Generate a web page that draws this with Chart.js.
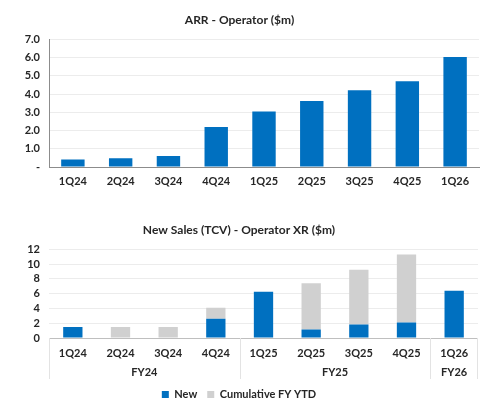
<!DOCTYPE html>
<html>
<head>
<meta charset="utf-8">
<script src="https://cdn.jsdelivr.net/npm/chart.js@4"></script>
<style>
  body { margin: 0; background: #fff; }
  .wrap { position: absolute; left: 0; width: 492px; }
</style>
</head>
<body>
<div class="wrap" style="top:0;height:200px"><canvas id="arrChart"></canvas></div>
<div class="wrap" style="top:210px;height:207px"><canvas id="salesChart"></canvas></div>
<script>
const quarters = ['1Q24', '2Q24', '3Q24', '4Q24', '1Q25', '2Q25', '3Q25', '4Q25', '1Q26'];
const fiscalYears = ['FY24', 'FY24', 'FY24', 'FY24', 'FY25', 'FY25', 'FY25', 'FY25', 'FY26'];
const arrValues = [0.41, 0.48, 0.61, 2.2, 3.05, 3.62, 4.21, 4.71, 6.04];
const newSales = [1.5, 0, 0, 2.6, 6.25, 1.15, 1.83, 2.1, 6.4];
const cumulativeYtd = [0, 1.5, 1.5, 1.5, 0, 6.25, 7.4, 9.2, 0];

const BLUE = '#0070C0';
const GREY = '#D0D0D0';
const TEXT = '#262626';
const FONT = 'Lato, "Open Sans", sans-serif';

Chart.defaults.font.family = FONT;
Chart.defaults.font.weight = 'bold';
Chart.defaults.color = TEXT;
Chart.defaults.animation = false;

// ARR chart
new Chart(document.getElementById('arrChart'), {
  type: 'bar',
  data: {
    labels: quarters,
    datasets: [{
      data: arrValues,
      backgroundColor: BLUE,
      categoryPercentage: 1,
      barPercentage: 0.49,
    }]
  },
  options: {
    responsive: true,
    maintainAspectRatio: false,
    layout: { padding: { left: 0, right: 13, bottom: 0 } },
    plugins: {
      legend: { display: false },
      tooltip: { enabled: false },
      title: {
        display: true,
        text: 'ARR - Operator ($m)',
        font: { size: 12, weight: 'bold' },
        color: TEXT,
        padding: { top: 13, bottom: 12 },
      },
    },
    scales: {
      x: {
        grid: { display: false, drawTicks: false },
        border: { color: '#8c8c8c' },
        ticks: { font: { size: 11 }, padding: 8 },
        afterFit: (scale) => { scale.height = 33; },
      },
      y: {
        min: 0,
        max: 7,
        ticks: {
          stepSize: 1,
          autoSkip: false,
          font: { size: 11 },
          padding: 9,
          callback: (v) => v === 0 ? '-' : v.toFixed(1),
        },
        grid: { color: '#ececec', drawTicks: false },
        border: { color: '#8c8c8c' },
        afterFit: (scale) => { scale.width = 49; },
      }
    }
  }
});

// fiscal-year group labels under the quarter ticks
const fyGroups = {
  id: 'fyGroups',
  afterDraw(chart) {
    const x = chart.scales.x;
    const ctx = chart.ctx;
    const half = x.width / quarters.length / 2;
    const top = chart.chartArea.bottom;
    const bottom = top + 41;
    const groups = [];
    fiscalYears.forEach((fy, i) => {
      const last = groups[groups.length - 1];
      if (last && last.name === fy) last.end = i;
      else groups.push({ name: fy, start: i, end: i });
    });
    ctx.save();
    ctx.strokeStyle = '#e3e3e3';
    ctx.lineWidth = 1;
    ctx.fillStyle = TEXT;
    ctx.font = 'bold 11px ' + FONT;
    ctx.textAlign = 'center';
    ctx.textBaseline = 'middle';
    groups.forEach((g, k) => {
      const x0 = x.getPixelForValue(g.start) - half;
      const x1 = x.getPixelForValue(g.end) + half;
      ctx.beginPath();
      ctx.moveTo(Math.round(x0) + 0.5, top);
      ctx.lineTo(Math.round(x0) + 0.5, bottom);
      if (k === groups.length - 1) {
        ctx.moveTo(Math.round(x1) - 0.5, top);
        ctx.lineTo(Math.round(x1) - 0.5, bottom);
      }
      ctx.stroke();
      ctx.fillText(g.name, (x0 + x1) / 2, top + 34);
    });
    ctx.restore();
  }
};

// New sales chart
new Chart(document.getElementById('salesChart'), {
  type: 'bar',
  data: {
    labels: quarters,
    datasets: [
      {
        label: 'New',
        data: newSales,
        backgroundColor: BLUE,
        categoryPercentage: 1,
        barPercentage: 0.405,
      },
      {
        label: 'Cumulative FY YTD',
        data: cumulativeYtd,
        backgroundColor: GREY,
        categoryPercentage: 1,
        barPercentage: 0.405,
      }
    ]
  },
  plugins: [fyGroups],
  options: {
    responsive: true,
    maintainAspectRatio: false,
    layout: { padding: { left: 0, right: 14, bottom: 7 } },
    plugins: {
      legend: {
        position: 'bottom',
        labels: {
          boxWidth: 7,
          boxHeight: 7,
          padding: 10,
          font: { size: 11 },
          color: TEXT,
        }
      },
      tooltip: { enabled: false },
      title: {
        display: true,
        text: 'New Sales (TCV) - Operator XR ($m)',
        font: { size: 12, weight: 'bold' },
        color: TEXT,
        padding: { top: 13, bottom: 12 },
      },
    },
    scales: {
      x: {
        stacked: true,
        grid: { display: false, drawTicks: false },
        border: { display: false },
        ticks: { font: { size: 11 }, padding: 9 },
        afterFit: (scale) => { scale.height = 41; },
      },
      y: {
        stacked: true,
        min: 0,
        max: 12,
        ticks: { stepSize: 2, autoSkip: false, font: { size: 11 }, padding: 9 },
        grid: {
          color: (c) => c.tick && c.tick.value === 0 ? '#bfbfbf' : '#ececec',
          drawTicks: false,
        },
        border: { display: false },
        afterFit: (scale) => { scale.width = 49; },
      }
    }
  }
});
</script>
</body>
</html>
